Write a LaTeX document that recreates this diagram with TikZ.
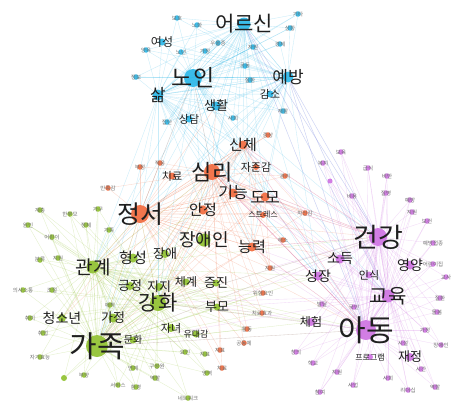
\documentclass[tikz,border=0pt]{standalone}
\usepackage{fontspec}
\setmainfont{Noto Sans CJK KR}
\usetikzlibrary{backgrounds}
\definecolor{bl}{RGB}{38,182,232}
\definecolor{or}{RGB}{242,104,58}
\definecolor{gr}{RGB}{142,192,44}
\definecolor{pu}{RGB}{206,112,226}
\newcommand\mknode[7]{%
  \node[hubdot,fill=#4,minimum size=#5pt] (#1) at (#2,#3) {};
  \node[hublbl,font=\fontsize{#6}{#6}\selectfont] (#1l) at (#2,#3) {#7};}
\newcommand\tinynode[5]{%
  \node[hubdot,fill=#4,minimum size=5.5pt] (#1) at (#2,#3) {};
  \node[tinylbl] (#1l) at (#2,#3) {#5};}
\tikzset{
  hubdot/.style={circle,inner sep=0pt,opacity=.9},
  hublbl/.style={inner sep=0pt,text=black!88},
  tinylbl/.style={inner sep=0pt,text=black!55,font=\fontsize{5.5}{5.5}\selectfont},
  edgeline/.style={line width=.35pt,opacity=.25},
}
\begin{document}
\begin{tikzpicture}[x=1pt,y=-1pt]
\useasboundingbox (0,0) rectangle (465,415);
% ---------- blue ----------
\mknode{b1}{244}{24}{bl}{13}{21}{어르신}
\mknode{b2}{193}{78}{bl}{18}{23}{노인}
\mknode{b3}{288}{77}{bl}{11}{17}{예방}
\mknode{b4}{158}{95}{bl}{11}{17}{삶}
\mknode{b5}{216}{106}{bl}{9}{13}{생활}
\mknode{b6}{162}{42}{bl}{7}{12}{여성}
\mknode{b7}{189}{119}{bl}{7}{11}{상담}
\mknode{b8}{270}{94}{bl}{7}{11}{감소}
\tinynode{b9}{218}{43}{bl}{우울증}
\tinynode{b10}{253}{47}{bl}{자원}
\tinynode{b11}{245}{66}{bl}{공동}
\tinynode{b12}{250}{80}{bl}{질환}
\tinynode{b13}{283}{111}{bl}{재활}
\tinynode{b14}{298}{14}{bl}{기타}
\tinynode{b15}{290}{28}{bl}{상황}
\tinynode{b16}{280}{44}{bl}{경제}
\tinynode{b17}{177}{18}{bl}{보호}
\tinynode{b18}{197}{25}{bl}{노화}
\tinynode{b19}{146}{50}{bl}{양육}
\tinynode{b20}{181}{52}{bl}{노년}
\tinynode{b21}{205}{51}{bl}{가정}
\tinynode{b22}{136}{77}{bl}{정보}
\tinynode{b23}{167}{122}{bl}{집단}
\tinynode{b24}{233}{118}{bl}{사회}
% ---------- orange ----------
\mknode{o1}{243}{145}{or}{9}{15}{신체}
\mknode{o2}{212}{172}{or}{16}{22}{심리}
\mknode{o3}{140}{214}{or}{18}{25}{정서}
\mknode{o4}{233}{193}{or}{9}{16}{기능}
\mknode{o5}{265}{197}{or}{9}{16}{도모}
\mknode{o6}{203}{210}{or}{9}{15}{안정}
\mknode{o7}{252}{247}{or}{9}{15}{능력}
\mknode{o8}{256}{167}{or}{6}{11}{자존감}
\mknode{o9}{172}{176}{or}{7}{11}{치료}
\mknode{o10}{263}{215}{or}{6}{8}{스트레스}
\tinynode{o11}{283}{240}{or}{해소}
\tinynode{o12}{108}{188}{or}{만족감}
\tinynode{o13}{160}{163}{or}{적응}
\tinynode{o14}{140}{167}{or}{부정}
\tinynode{o15}{285}{176}{or}{관리}
\tinynode{o16}{305}{213}{or}{자신감}
\tinynode{o17}{268}{135}{or}{증상}
\tinynode{o18}{270}{268}{or}{지원}
\tinynode{o19}{263}{293}{or}{위험요인}
\tinynode{o20}{262}{313}{or}{치료효과}
\tinynode{o21}{247}{329}{or}{활동}
\tinynode{o22}{244}{343}{or}{공동체}
\tinynode{o23}{220}{350}{or}{지표}
\tinynode{o24}{222}{368}{or}{치료}
% ---------- green ----------
\mknode{g1}{93}{267}{gr}{13}{19}{관계}
\mknode{g2}{133}{258}{gr}{9}{15}{형성}
\mknode{g3}{158}{303}{gr}{16}{21}{강화}
\mknode{g4}{97}{346}{gr}{22}{30}{가족}
\mknode{g5}{62}{318}{gr}{8}{14}{청소년}
\mknode{g6}{113}{318}{gr}{9}{13}{가정}
\mknode{g7}{130}{286}{gr}{8}{13}{긍정}
\mknode{g8}{159}{287}{gr}{8}{13}{지지}
\mknode{g9}{186}{282}{gr}{7}{12}{체계}
\mknode{g10}{216}{283}{gr}{7}{13}{증진}
\mknode{g11}{204}{240}{gr}{13}{18}{장애인}
\mknode{g12}{165}{254}{gr}{8}{13}{장애}
\mknode{g13}{217}{307}{gr}{7}{13}{부모}
\mknode{g14}{171}{328}{gr}{8}{11}{자녀}
\mknode{g15}{196}{334}{gr}{7}{9}{유대감}
\mknode{g16}{133}{340}{gr}{7}{10}{문화}
\tinynode{g17}{40}{210}{gr}{계층}
\tinynode{g18}{28}{225}{gr}{원인}
\tinynode{g19}{70}{214}{gr}{한부모}
\tinynode{g20}{86}{225}{gr}{정체}
\tinynode{g21}{98}{209}{gr}{가구}
\tinynode{g22}{109}{230}{gr}{가족}
\tinynode{g23}{52}{237}{gr}{어린이}
\tinynode{g24}{40}{260}{gr}{분류}
\tinynode{g25}{58}{258}{gr}{지원}
\tinynode{g26}{23}{290}{gr}{의사소통}
\tinynode{g27}{52}{290}{gr}{조절}
\tinynode{g28}{30}{318}{gr}{취미}
\tinynode{g29}{43}{333}{gr}{취업}
\tinynode{g30}{40}{357}{gr}{자기효능}
\node[hubdot,fill=gr,minimum size=6pt] (g31) at (64,378) {};
\tinynode{g32}{84}{375}{gr}{부양}
\tinynode{g33}{118}{385}{gr}{서비스}
\tinynode{g34}{136}{387}{gr}{환경}
\tinynode{g35}{133}{368}{gr}{연계}
\tinynode{g36}{157}{366}{gr}{구성원}
\tinynode{g37}{155}{378}{gr}{역할}
\tinynode{g38}{207}{373}{gr}{영역}
\tinynode{g39}{188}{398}{gr}{네트워크}
\tinynode{g40}{185}{352}{gr}{요인}
\tinynode{g41}{110}{305}{gr}{애착}
\tinynode{g43}{205}{354}{gr}{지표}
% ---------- purple ----------
\mknode{p1}{378}{237}{pu}{18}{27}{건강}
\mknode{p2}{366}{330}{pu}{20}{30}{아동}
\mknode{p3}{388}{296}{pu}{13}{20}{교육}
\mknode{p4}{410}{265}{pu}{9}{14}{영양}
\mknode{p5}{340}{259}{pu}{9}{14}{소득}
\mknode{p6}{318}{276}{pu}{9}{14}{성장}
\mknode{p7}{369}{275}{pu}{7}{11}{인식}
\mknode{p8}{311}{322}{pu}{8}{12}{체험}
\mknode{p9}{410}{357}{pu}{8}{13}{재정}
\mknode{p10}{370}{357}{pu}{6}{8}{프로그램}
\tinynode{p11}{341}{152}{pu}{보육}
\tinynode{p12}{323}{163}{pu}{복지}
\node[hubdot,fill=pu,minimum size=5pt] (p13) at (330,181) {};
\tinynode{p14}{368}{168}{pu}{급식}
\tinynode{p15}{387}{176}{pu}{비만}
\tinynode{p16}{386}{193}{pu}{질병}
\tinynode{p17}{352}{196}{pu}{비용}
\tinynode{p18}{410}{200}{pu}{예방}
\tinynode{p19}{412}{212}{pu}{지원}
\tinynode{p20}{427}{221}{pu}{보건}
\tinynode{p21}{433}{243}{pu}{예방접종}
\tinynode{p22}{433}{264}{pu}{어린이집}
\tinynode{p23}{446}{277}{pu}{교사}
\tinynode{p24}{440}{298}{pu}{질환}
\tinynode{p25}{437}{312}{pu}{돌봄}
\tinynode{p26}{425}{330}{pu}{가정}
\tinynode{p27}{403}{343}{pu}{시설}
\tinynode{p28}{441}{345}{pu}{장애인}
\tinynode{p29}{421}{369}{pu}{시간}
\tinynode{p30}{322}{304}{pu}{발달}
\tinynode{p31}{354}{307}{pu}{국민}
\tinynode{p32}{313}{363}{pu}{학교}
\tinynode{p33}{337}{372}{pu}{지원}
\tinynode{p34}{353}{385}{pu}{사업}
\tinynode{p35}{388}{378}{pu}{사회}
\tinynode{p36}{408}{390}{pu}{리더십}
\tinynode{p37}{435}{387}{pu}{역할}
\tinynode{p38}{320}{392}{pu}{참여}
\tinynode{p40}{296}{352}{pu}{창의}
% ---------- edges ----------
\begin{pgfonlayer}{background}
\fill[white] (0,0) rectangle (465,415);
\foreach \s in {b1,b2,b3,b4}
  \foreach \t in {b1,b2,b3,b4,b5,b6,b7,b8,b9,b10,b11,b12,b13,b14,b15,b16,b17,b18,b19,b20,b21,b22,b23,b24,o1,o2,o3,o4,o5,o6,o7,g1,g3,g4,p1,p2,p3,p6}
    \draw[edgeline,bl] (\s) -- (\t);
\foreach \s in {o2,o3}
  \foreach \t in {o1,o2,o3,o4,o5,o6,o7,o8,o9,o10,o11,o12,o13,o14,o15,o16,o17,o18,o19,o20,o21,o22,o23,o24,g1,g2,g3,g4,g5,g11,g12,p1,p2,p5,b2,b5}
    \draw[edgeline,or] (\s) -- (\t);
\foreach \s in {o1,o4,o5,o7}
  \foreach \t in {o2,o3,o6,o8,o10,o16,o18,p1,p2,g4,g3}
    \draw[edgeline,or] (\s) -- (\t);
\foreach \s in {g4,g3,g1}
  \foreach \t in {g1,g2,g3,g4,g5,g6,g7,g8,g9,g10,g11,g12,g13,g14,g15,g16,g17,g18,g19,g20,g21,g22,g23,g24,g25,g26,g27,g28,g29,g30,g31,g32,g33,g34,g35,g36,g37,g38,g39,g40,g41,g43,o3,o2,o6,o19,o20,o21,p2,p8,p6,p1}
    \draw[edgeline,gr] (\s) -- (\t);
\foreach \s in {p1,p2,p3}
  \foreach \t in {p1,p2,p3,p4,p5,p6,p7,p8,p9,p10,p11,p12,p13,p14,p15,p16,p17,p18,p19,p20,p21,p22,p23,p24,p25,p26,p27,p28,p29,p30,p31,p32,p33,p34,p35,p36,p37,p38,p40,o1,o2,o4,o5,o7,o18,b1,b3,g4,g3,g13}
    \draw[edgeline,pu] (\s) -- (\t);
\end{pgfonlayer}
\end{tikzpicture}
\end{document}
